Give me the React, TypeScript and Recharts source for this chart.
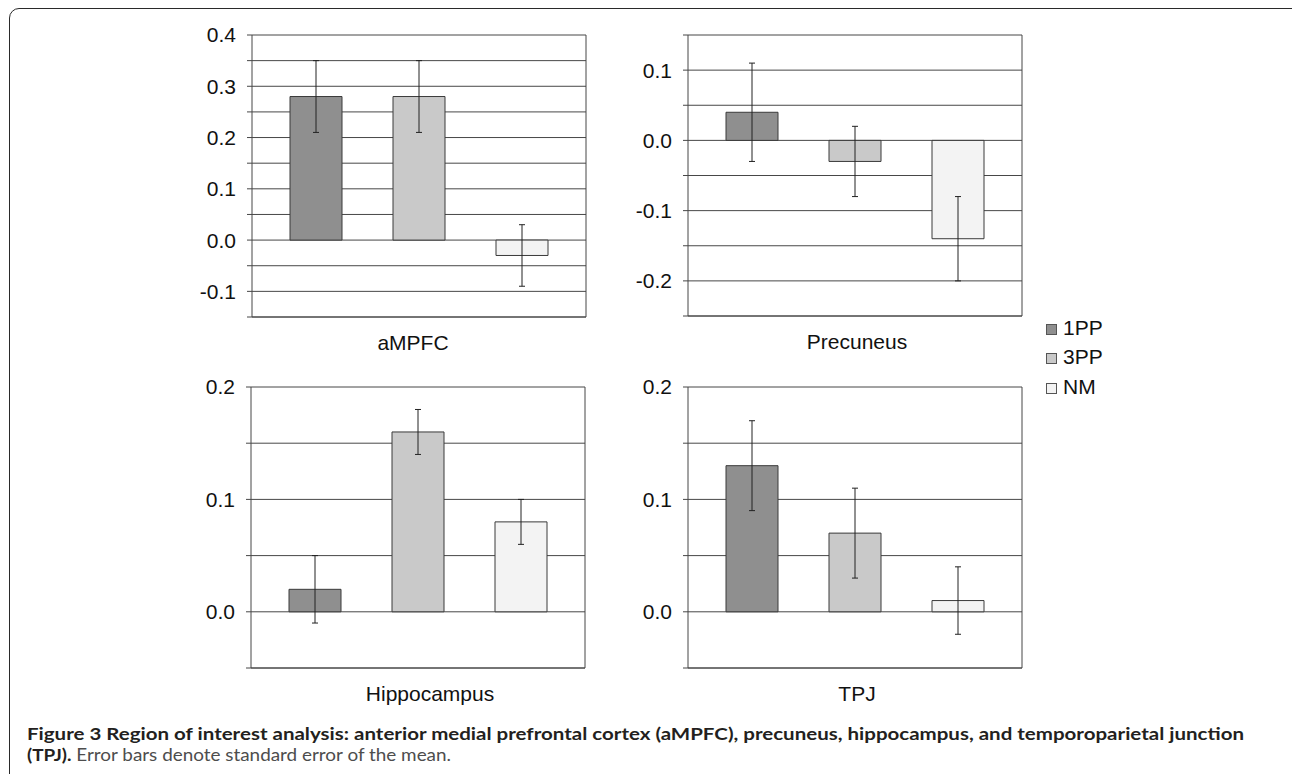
import React from 'react';
import { Bar, BarChart, CartesianGrid, ErrorBar, XAxis, YAxis } from 'recharts';

// regions of interest, one panel each
const regions = ['aMPFC', 'Precuneus', 'Hippocampus', 'TPJ'];
const seriesNames = ['1PP', '3PP', 'NM'];

// mean signal per condition, in region order
const means1PP = [0.28, 0.04, 0.02, 0.13];
const means3PP = [0.28, -0.03, 0.16, 0.07];
const meansNM = [-0.03, -0.14, 0.08, 0.01];

// standard error of the mean
const se1PP = [0.07, 0.07, 0.03, 0.04];
const se3PP = [0.07, 0.05, 0.02, 0.04];
const seNM = [0.06, 0.06, 0.02, 0.03];

// y axis: domain, gridline positions, labelled ticks
const yDomains = [
  [-0.15, 0.4],
  [-0.25, 0.15],
  [-0.05, 0.2],
  [-0.05, 0.2],
];
const gridTicks = [
  [-0.15, -0.1, -0.05, 0, 0.05, 0.1, 0.15, 0.2, 0.25, 0.3, 0.35, 0.4],
  [-0.25, -0.2, -0.15, -0.1, -0.05, 0, 0.05, 0.1, 0.15],
  [-0.05, 0, 0.05, 0.1, 0.15, 0.2],
  [-0.05, 0, 0.05, 0.1, 0.15, 0.2],
];
const labelTicks = [
  [-0.1, 0, 0.1, 0.2, 0.3, 0.4],
  [-0.2, -0.1, 0, 0.1],
  [0, 0.1, 0.2],
  [0, 0.1, 0.2],
];

const FILLS = ['#8f8f8f', '#c9c9c9', '#f3f3f3'];
const LINE = '#474747';
const FONT = '"Liberation Sans", Arial, sans-serif';
const CAPTION_FONT = "Lato, 'Open Sans', sans-serif";

// plot area of each panel on the page, plus a small nudge for the category label
const plots = [
  { left: 252, top: 35, width: 334, height: 282, labelDx: -6 },
  { left: 688, top: 35, width: 334, height: 281, labelDx: 2 },
  { left: 251, top: 387, width: 334, height: 281, labelDx: 12 },
  { left: 688, top: 387, width: 334, height: 281, labelDx: 2 },
];

const Y_W = 80;
const X_H = 50;
const PAD_TOP = 20;
const PAD_RIGHT = 10;

function Panel({ index }: { index: number }) {
  const plot = plots[index];
  const rows = [
    {
      region: regions[index],
      m1: means1PP[index],
      e1: se1PP[index],
      m3: means3PP[index],
      e3: se3PP[index],
      mn: meansNM[index],
      en: seNM[index],
    },
  ];
  const labels = labelTicks[index];
  const fmt = (v: number) =>
    labels.some((l) => Math.abs(l - v) < 1e-9) ? v.toFixed(1) : '';

  const keys = [
    ['m1', 'e1'],
    ['m3', 'e3'],
    ['mn', 'en'],
  ];

  return (
    <div
      style={{
        position: 'absolute',
        left: plot.left - Y_W,
        top: plot.top - PAD_TOP,
      }}
    >
      <BarChart
        width={Y_W + plot.width + PAD_RIGHT}
        height={PAD_TOP + plot.height + X_H}
        data={rows}
        margin={{ top: PAD_TOP, right: PAD_RIGHT - 1, left: 0, bottom: 0 }}
        barGap={51}
      >
        <CartesianGrid vertical={false} stroke={LINE} strokeWidth={1} />
        <XAxis
          dataKey="region"
          height={X_H}
          axisLine={{ stroke: LINE }}
          tickLine={false}
          tickMargin={12}
          tick={{ fill: '#111', fontSize: 21, fontFamily: FONT, dx: plot.labelDx }}
        />
        <YAxis
          width={Y_W}
          domain={yDomains[index]}
          ticks={gridTicks[index]}
          interval={0}
          allowDataOverflow
          tickFormatter={fmt}
          axisLine={{ stroke: LINE }}
          tickLine={{ stroke: LINE }}
          tickSize={5}
          tickMargin={11}
          tick={{ fill: '#111', fontSize: 21, fontFamily: FONT }}
        />
        <YAxis
          yAxisId="edge"
          orientation="right"
          width={1}
          domain={yDomains[index]}
          tick={false}
          tickLine={false}
          axisLine={{ stroke: LINE }}
        />
        {keys.map(([m, e], i) => (
          <Bar
            key={m}
            dataKey={m}
            name={seriesNames[i]}
            barSize={52}
            fill={FILLS[i]}
            stroke="#3a3a3a"
            strokeWidth={1}
            isAnimationActive={false}
          >
            <ErrorBar
              dataKey={e}
              direction="y"
              width={3}
              stroke="#222"
              strokeWidth={1}
              isAnimationActive={false}
            />
          </Bar>
        ))}
      </BarChart>
    </div>
  );
}

function Legend() {
  return (
    <div style={{ position: 'absolute', left: 1046, top: 313, fontFamily: FONT }}>
      {seriesNames.map((name, i) => (
        <div
          key={name}
          style={{ display: 'flex', alignItems: 'center', height: 29.5 }}
        >
          <span
            style={{
              width: 9,
              height: 9,
              background: FILLS[i],
              border: '1px solid #555',
              marginRight: 6,
              marginTop: 3,
            }}
          />
          <span style={{ fontSize: 21, color: '#111' }}>{name}</span>
        </div>
      ))}
    </div>
  );
}

export default function App() {
  return (
    <div
      style={{
        position: 'fixed',
        left: 0,
        top: 0,
        width: 1292,
        height: 774,
        overflow: 'hidden',
        background: '#fff',
      }}
    >
      <div
        style={{
          position: 'absolute',
          left: 9,
          top: 8,
          width: 1300,
          height: 820,
          border: '1.5px solid #2a2a2a',
          borderRadius: 10,
        }}
      />
      {regions.map((r, i) => (
        <Panel key={r} index={i} />
      ))}
      <Legend />
      <svg
        width={1292}
        height={774}
        style={{ position: 'absolute', left: 0, top: 0, pointerEvents: 'none' }}
      >
        <text
          x={27}
          y={740}
          fontFamily={CAPTION_FONT}
          fontWeight={700}
          fontSize={17}
          fill="#231f20"
          textLength={1217}
          lengthAdjust="spacingAndGlyphs"
        >
          Figure 3 Region of interest analysis: anterior medial prefrontal cortex (aMPFC),
          precuneus, hippocampus, and temporoparietal junction
        </text>
        <text
          x={27}
          y={761}
          fontFamily={CAPTION_FONT}
          fontSize={17}
          textLength={424}
          lengthAdjust="spacingAndGlyphs"
        >
          <tspan fontWeight={700} fill="#231f20">
            (TPJ).
          </tspan>
          <tspan fill="#4d4d4d"> Error bars denote standard error of the mean.</tspan>
        </text>
      </svg>
    </div>
  );
}
